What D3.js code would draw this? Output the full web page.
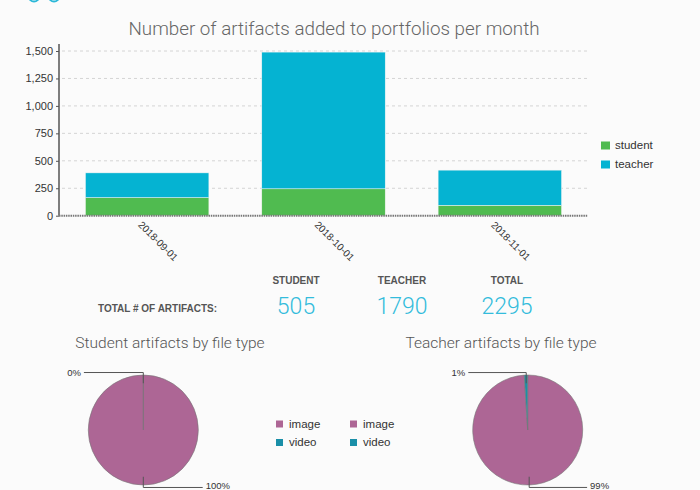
<!DOCTYPE html>
<html><head><meta charset="utf-8">
<script src="https://cdn.jsdelivr.net/npm/d3@7"></script>
<style>
html,body{margin:0;padding:0;background:#fbfbfb;}
svg{display:block;font-family:"Liberation Sans",Arial,sans-serif;}
</style></head>
<body><svg id="c" width="700" height="490"></svg>
<script>
const months = ["2018-09-01","2018-10-01","2018-11-01"];
const studentCounts = [165, 245, 95];
const teacherCounts = [225, 1245, 320];
const yTicks = [0,250,500,750,1000,1250,1500];
const seriesNames = ["student","teacher"];
const seriesColors = ["#50bb50","#05b3d2"];
const summaryHeads = ["STUDENT","TEACHER","TOTAL"];
const summaryValues = [505, 1790, 2295];
const fileTypes = ["image","video"];
const fileColors = ["#ad6695","#1a8fa8"];
const studentFiles = [505, 0];
const teacherFiles = [1772, 18];

const svg = d3.select("#c");

// partial cyan icons at the top (cut off)
svg.selectAll("circle.ic").data([34,54]).enter().append("circle")
  .attr("cx",d=>d).attr("cy",-3.5).attr("r",5).attr("fill","none")
  .attr("stroke","#2bb8d8").attr("stroke-width",2);

// ---- bar chart ----
const m = {l:59, r:588, t:44, b:215.7};
const x = d3.scaleBand().domain(months).range([m.l,m.r]).paddingInner(0.3).paddingOuter(0.15);
const y = d3.scaleLinear().domain([0,1500]).range([m.b, 51]);

svg.append("text").attr("x",334).attr("y",35).attr("text-anchor","middle")
  .attr("font-family","Roboto").attr("font-weight",300).attr("font-size",18.8).attr("fill","#666")
  .text("Number of artifacts added to portfolios per month");

svg.append("g").selectAll("line").data(yTicks.slice(1)).enter().append("line")
  .attr("x1",m.l+3).attr("x2",m.r).attr("y1",d=>y(d)).attr("y2",d=>y(d))
  .attr("stroke","#d4d4d4").attr("stroke-dasharray","3,3");

const stack = d3.stack().keys(seriesNames)(months.map((mo,i)=>({month:mo, student:studentCounts[i], teacher:teacherCounts[i]})));
svg.append("g").selectAll("g").data(stack).enter().append("g")
  .attr("fill",(d,i)=>seriesColors[i])
  .selectAll("rect").data(d=>d).enter().append("rect")
  .attr("x",d=>x(d.data.month)).attr("width",x.bandwidth())
  .attr("y",d=>y(d[1])).attr("height",d=>y(d[0])-y(d[1]))
  .attr("stroke","#f4f4f4").attr("stroke-width",0.5);

const yAxis = svg.append("g").attr("transform",`translate(${m.l},0)`)
  .call(d3.axisLeft(y).tickValues(yTicks).tickSize(3).tickFormat(d3.format(",")));
yAxis.select(".domain").attr("d",`M0,${m.t}V${m.b}`).attr("stroke","#555").attr("stroke-width",1.5);
yAxis.selectAll(".tick line").attr("stroke","#555");
yAxis.selectAll(".tick text").attr("font-size",11).attr("fill","#333").attr("x",-6).attr("font-family","Liberation Sans");

svg.append("line").attr("x1",m.l).attr("x2",m.r).attr("y1",m.b).attr("y2",m.b)
  .attr("stroke","#777").attr("stroke-width",2).attr("stroke-dasharray","1.5,0.8");

svg.append("g").selectAll("text").data(months).enter().append("text")
  .attr("transform",d=>`translate(${x(d)+x.bandwidth()/2+11},${241}) rotate(45)`)
  .attr("text-anchor","middle").attr("dy","0.35em").attr("font-size",10).attr("fill","#333")
  .text(d=>d);

const lg = svg.append("g").selectAll("g").data(seriesNames).enter().append("g")
  .attr("transform",(d,i)=>`translate(601,${141.5+i*19})`);
lg.append("rect").attr("width",9).attr("height",8).attr("fill",(d,i)=>seriesColors[i]);
lg.append("text").attr("x",14).attr("y",7.5).attr("font-size",11.5).attr("fill","#333").text(d=>d);

// ---- summary ----
const sx = [296, 402, 507];
svg.append("g").selectAll("text").data(summaryHeads).enter().append("text")
  .attr("x",(d,i)=>sx[i]).attr("y",284).attr("text-anchor","middle")
  .attr("font-size",10).attr("font-weight","bold").attr("fill","#555").text(d=>d);
svg.append("g").selectAll("text").data(summaryValues).enter().append("text")
  .attr("x",(d,i)=>sx[i]).attr("y",314).attr("text-anchor","middle")
  .attr("font-family","Roboto").attr("font-weight",300)
  .attr("font-size",23).attr("fill","#33bcdc").text(d=>d);
svg.append("text").attr("x",98).attr("y",312).attr("font-size",10).attr("font-weight","bold")
  .attr("fill","#555").text("TOTAL # OF ARTIFACTS:");

// ---- pies ----
function drawPie(cx, cy, data, title, tcx){
  svg.append("text").attr("x",tcx).attr("y",348).attr("text-anchor","middle")
    .attr("font-family","Roboto").attr("font-weight",300).attr("font-size",15.5).attr("fill","#555").text(title);
  const r = 55;
  const pie = d3.pie().sort(null).value(d=>d.v);
  const arcs = pie(data.map((v,i)=>({v:v, k:fileTypes[i]})));
  const arc = d3.arc().innerRadius(0).outerRadius(r);
  const g = svg.append("g").attr("transform",`translate(${cx},${cy})`);
  g.selectAll("path").data(arcs).enter().append("path").attr("d",arc)
    .attr("fill",(d,i)=>fileColors[i]).attr("stroke","#777").attr("stroke-width",0.6);
  const total = d3.sum(data);
  arcs.forEach(a=>{
    const mid = (a.startAngle+a.endAngle)/2;
    const px = Math.sin(mid), py = -Math.cos(mid);
    const x0 = px*r*0.85, y0 = py*r*0.85;
    const y1 = py*r*1.045;
    const side = mid > Math.PI ? -1 : 1;
    const x2 = side*r*1.08;
    g.append("polyline").attr("points",`${x0},${y0} ${x0},${y1} ${x2},${y1}`)
      .attr("fill","none").attr("stroke","#555").attr("stroke-width",1);
    const ty = Math.min(y1 + 3.3, 489 - cy);
    g.append("text").attr("x",x2+side*3).attr("y",ty)
      .attr("text-anchor",side<0?"end":"start").attr("font-size",9.5).attr("fill","#333")
      .text(Math.round(a.data.v/total*100)+"%");
  });
}
drawPie(143.3, 430, studentFiles, "Student artifacts by file type", 170);
drawPie(527.7, 430, teacherFiles, "Teacher artifacts by file type", 501);

// pie legends
[276, 350].forEach(lx=>{
  const l = svg.append("g").selectAll("g").data(fileTypes).enter().append("g")
    .attr("transform",(d,i)=>`translate(${lx},${420.5+i*18.5})`);
  l.append("rect").attr("width",7).attr("height",7).attr("fill",(d,i)=>fileColors[i]);
  l.append("text").attr("x",13).attr("y",7).attr("font-size",11.5).attr("fill","#333").text(d=>d);
});
</script></body></html>
